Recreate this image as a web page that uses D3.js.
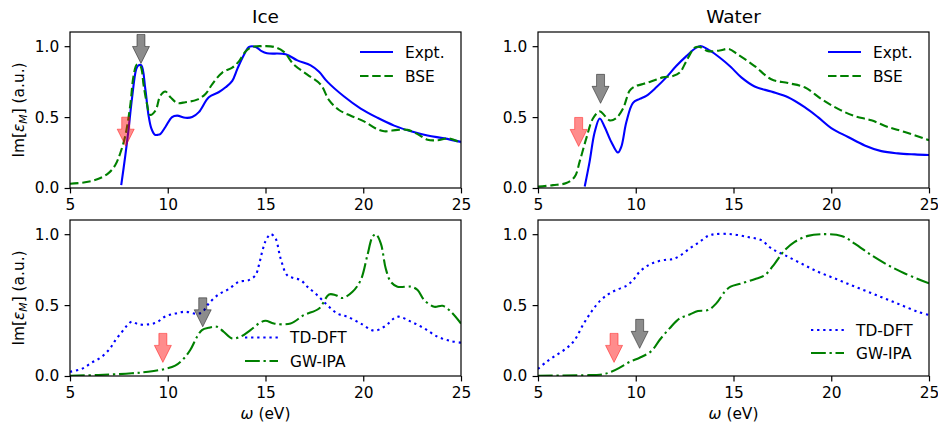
<!DOCTYPE html>
<html>
<head>
<meta charset="utf-8">
<script src="https://cdn.jsdelivr.net/npm/d3@7"></script>
<style>
  body { margin: 0; background: #fff; }
  svg { display: block; font-family: "DejaVu Sans", sans-serif; }
</style>
</head>
<body>
<script>
// [omega (eV), Im eps_M (a.u.)]
const iceExpt = [[7.62,0.02],[7.83,0.23],[8.0,0.42],[8.17,0.63],[8.39,0.84],[8.5,0.865],[8.65,0.865],[8.85,0.70],[9.02,0.51],[9.16,0.42],[9.33,0.377],[9.5,0.375],[9.62,0.38],[9.88,0.43],[10.22,0.50],[10.48,0.51],[10.9,0.495],[11.25,0.50],[11.59,0.535],[12.1,0.64],[12.6,0.675],[12.96,0.71],[13.3,0.756],[13.56,0.84],[13.9,0.94],[14.16,0.995],[14.5,0.995],[14.8,0.965],[15.08,0.95],[16.03,0.943],[16.63,0.90],[17.31,0.865],[17.74,0.82],[18.16,0.75],[19.02,0.645],[19.87,0.56],[20.73,0.495],[21.58,0.44],[22.44,0.40],[23.29,0.37],[24.14,0.35],[25,0.325]];
const iceBSE = [[5.0,0.03],[5.77,0.04],[6.46,0.065],[6.97,0.105],[7.31,0.16],[7.57,0.245],[7.83,0.37],[8.08,0.58],[8.25,0.79],[8.42,0.87],[8.6,0.86],[8.77,0.72],[8.94,0.59],[9.1,0.515],[9.37,0.545],[9.62,0.65],[9.88,0.68],[10.14,0.64],[10.48,0.60],[10.9,0.605],[11.5,0.623],[11.93,0.663],[12.28,0.733],[12.79,0.814],[13.3,0.849],[13.65,0.895],[13.99,0.965],[14.33,0.995],[14.85,1.0],[15.43,0.995],[15.94,0.96],[16.45,0.87],[17.14,0.80],[17.82,0.73],[18.25,0.62],[18.76,0.55],[19.36,0.51],[20.04,0.47],[20.64,0.42],[21.07,0.40],[21.75,0.41],[22.26,0.41],[22.78,0.38],[23.29,0.34],[23.81,0.337],[24.4,0.35],[25,0.317]];
const waterExpt = [[7.39,0.01],[7.64,0.186],[7.9,0.395],[8.16,0.49],[8.41,0.43],[8.75,0.325],[9.09,0.25],[9.26,0.29],[9.52,0.465],[9.86,0.60],[10.2,0.628],[10.54,0.65],[11.05,0.71],[11.56,0.78],[12.07,0.86],[12.59,0.93],[13.1,0.99],[13.35,1.0],[13.78,0.97],[14.29,0.92],[14.85,0.855],[15.4,0.78],[16.08,0.716],[16.93,0.68],[17.79,0.64],[18.64,0.57],[19.32,0.50],[20.0,0.423],[20.86,0.36],[21.71,0.30],[22.56,0.26],[23.41,0.244],[24.27,0.237],[25,0.233]];
const waterBSE = [[5,0.01],[5.77,0.02],[6.45,0.035],[6.88,0.08],[7.13,0.186],[7.47,0.35],[7.81,0.49],[8.16,0.54],[8.41,0.51],[8.67,0.477],[9.0,0.493],[9.35,0.56],[9.69,0.686],[9.95,0.716],[10.37,0.733],[10.88,0.756],[11.39,0.78],[11.9,0.79],[12.25,0.814],[12.59,0.895],[13.02,0.99],[13.27,0.995],[13.7,0.965],[14.29,0.97],[14.76,0.98],[15.23,0.94],[16.08,0.86],[16.93,0.767],[17.79,0.74],[18.64,0.71],[19.49,0.628],[20.35,0.558],[21.2,0.507],[22.05,0.477],[22.9,0.43],[23.76,0.395],[25,0.337]];
const iceTDDFT = [[5.0,0.03],[5.6,0.05],[6.11,0.094],[6.63,0.136],[7.05,0.195],[7.31,0.25],[7.65,0.31],[7.91,0.354],[8.16,0.383],[8.5,0.364],[9.02,0.364],[9.44,0.378],[9.87,0.42],[10.38,0.44],[10.9,0.453],[11.41,0.44],[11.75,0.448],[12.09,0.51],[12.6,0.575],[13.12,0.613],[13.63,0.664],[14.14,0.676],[14.49,0.711],[14.66,0.78],[14.83,0.876],[15.0,0.95],[15.26,1.0],[15.51,0.97],[15.77,0.83],[16.11,0.71],[16.45,0.69],[16.8,0.676],[17.14,0.63],[17.65,0.57],[18.16,0.50],[18.68,0.44],[19.19,0.418],[19.87,0.37],[20.55,0.32],[21.07,0.347],[21.75,0.418],[22.44,0.383],[23.12,0.336],[23.8,0.277],[24.49,0.246],[25,0.235]];
const iceGWIPA = [[5,0.002],[6.45,0.007],[8.16,0.019],[9.0,0.03],[9.87,0.05],[10.38,0.073],[10.8,0.12],[11.15,0.183],[11.5,0.277],[11.75,0.324],[12.09,0.34],[12.52,0.347],[12.86,0.312],[13.29,0.265],[13.72,0.277],[14.23,0.324],[14.66,0.37],[15.0,0.39],[15.43,0.37],[16.28,0.37],[16.97,0.43],[17.74,0.476],[18.25,0.575],[18.59,0.57],[18.94,0.55],[19.45,0.594],[19.87,0.676],[20.21,0.85],[20.47,0.98],[20.64,1.0],[20.9,0.934],[21.15,0.758],[21.41,0.664],[21.75,0.63],[22.44,0.63],[22.78,0.606],[23.12,0.535],[23.63,0.488],[24.06,0.495],[24.49,0.453],[25,0.37]];
const waterTDDFT = [[5,0.05],[5.43,0.10],[5.94,0.148],[6.45,0.195],[6.88,0.254],[7.3,0.36],[7.73,0.453],[8.16,0.528],[8.58,0.575],[9.0,0.606],[9.52,0.636],[9.86,0.676],[10.2,0.735],[10.63,0.78],[11.05,0.805],[11.56,0.82],[11.9,0.824],[12.25,0.847],[12.76,0.9],[13.27,0.946],[13.7,0.988],[14.04,1.0],[14.89,1.0],[15.74,0.98],[16.42,0.958],[16.93,0.9],[17.62,0.852],[18.47,0.793],[19.32,0.735],[20.18,0.688],[21.03,0.64],[21.88,0.594],[22.73,0.547],[23.58,0.5],[24.43,0.453],[25,0.43]];
const waterGWIPA = [[5,0.002],[7.3,0.005],[8.32,0.012],[8.75,0.03],[9.18,0.059],[9.69,0.1],[10.2,0.129],[10.8,0.176],[11.22,0.254],[11.73,0.336],[12.25,0.406],[12.76,0.434],[13.18,0.458],[13.7,0.465],[14.12,0.512],[14.55,0.594],[14.85,0.63],[15.4,0.653],[16.08,0.683],[16.6,0.711],[17.11,0.793],[17.62,0.887],[18.13,0.946],[18.81,0.988],[19.49,1.0],[20.52,0.988],[21.2,0.934],[22.05,0.852],[22.9,0.782],[23.76,0.723],[25,0.653]];

// arrow tips [omega, value]
const iceBseArrows = [[8.63, 0.878], [7.85, 0.295]];
const waterBseArrows = [[8.2, 0.597], [7.08, 0.293]];
const iceIpaArrows = [[11.79, 0.347], [9.75, 0.096]];
const waterIpaArrows = [[10.2, 0.195], [8.89, 0.096]];

const xTicks = [5, 10, 15, 20, 25];
const yTicks = [0, 0.5, 1.0];
const titles = ["Ice", "Water"];

const width = 938, height = 425;
const pw = 391, ph = 156;
const fs = 15.4;
const tk = 5.4;

const styles = {
  "Expt.":  { color: "#0000ff", dash: null },
  "BSE":    { color: "#008000", dash: "8.5,3.7" },
  "TD-DFT": { color: "#0000ff", dash: "2.3,3.8" },
  "GW-IPA": { color: "#008000", dash: "14.8,3.7,2.3,3.7" }
};

const panels = [
  { left: 70,  top: 32,  title: titles[0], ylab: true,  xlab: false,
    series: [["Expt.", iceExpt], ["BSE", iceBSE]], arrows: iceBseArrows, leg: [290, 20, 24] },
  { left: 538, top: 32,  title: titles[1], ylab: false, xlab: false,
    series: [["Expt.", waterExpt], ["BSE", waterBSE]], arrows: waterBseArrows, leg: [290, 20, 24] },
  { left: 70,  top: 220, title: null, ylab: true,  xlab: true,
    series: [["TD-DFT", iceTDDFT], ["GW-IPA", iceGWIPA]], arrows: iceIpaArrows, leg: [175, 117.5, 23.5] },
  { left: 538, top: 220, title: null, ylab: false, xlab: true,
    series: [["TD-DFT", waterTDDFT], ["GW-IPA", waterGWIPA]], arrows: waterIpaArrows, leg: [273, 110, 23] }
];

const svg = d3.select("body").append("svg")
  .attr("width", width)
  .attr("height", height);

const x = d3.scaleLinear().domain([5, 25]).range([0, pw]);
const y = d3.scaleLinear().domain([0, 1.1]).range([ph, 0]);

const line = d3.line()
  .x(d => x(d[0]))
  .y(d => y(d[1]))
  .curve(d3.curveCatmullRom.alpha(0.5));

panels.forEach((p, i) => {
  const g = svg.append("g").attr("transform", `translate(${p.left},${p.top})`);

  g.append("clipPath").attr("id", "clip" + i)
    .append("rect").attr("width", pw).attr("height", ph);

  const plot = g.append("g").attr("clip-path", `url(#clip${i})`);

  p.series.forEach(([name, data]) => {
    const s = styles[name];
    plot.append("path")
      .datum(data)
      .attr("d", line)
      .attr("fill", "none")
      .attr("stroke", s.color)
      .attr("stroke-width", 2.1)
      .attr("stroke-dasharray", s.dash)
      .attr("stroke-linejoin", "round");
  });

  // arrows: first gray, second red
  const arrowCol = ["#000000", "#ff0000"];
  p.arrows.forEach((a, j) => {
    const tx = x(a[0]), ty = y(a[1]);
    const pts = [[tx - 4, ty - 29], [tx + 4, ty - 29], [tx + 4, ty - 17], [tx + 8.5, ty - 17],
                 [tx, ty], [tx - 8.5, ty - 17], [tx - 4, ty - 17]];
    g.append("polygon")
      .attr("points", pts.map(q => q.join(",")).join(" "))
      .attr("fill", arrowCol[j])
      .attr("fill-opacity", 0.45)
      .attr("stroke", arrowCol[j])
      .attr("stroke-opacity", 0.45)
      .attr("stroke-width", 1);
  });

  const xAxis = g.append("g")
    .attr("transform", `translate(0,${ph})`)
    .call(d3.axisBottom(x).tickValues(xTicks).tickSize(tk).tickPadding(tk).tickSizeOuter(0));
  const yAxis = g.append("g")
    .call(d3.axisLeft(y).tickValues(yTicks).tickFormat(d3.format(".1f")).tickSize(tk).tickPadding(tk).tickSizeOuter(0));
  [xAxis, yAxis].forEach(ax => {
    ax.select(".domain").remove();
    ax.selectAll("line").attr("stroke", "#000").attr("stroke-width", 1.2);
    ax.selectAll("text").attr("fill", "#000")
      .style("font-size", fs + "px").style("font-family", "DejaVu Sans");
  });

  g.append("rect")
    .attr("width", pw).attr("height", ph)
    .attr("fill", "none").attr("stroke", "#000").attr("stroke-width", 1.2);

  if (p.title) {
    g.append("text")
      .attr("x", pw / 2).attr("y", -9)
      .attr("text-anchor", "middle")
      .style("font-size", "18.5px")
      .text(p.title);
  }

  if (p.ylab) {
    const t = g.append("text")
      .attr("transform", `translate(${-46},${ph / 2}) rotate(-90)`)
      .attr("text-anchor", "middle")
      .style("font-size", fs + "px");
    t.append("tspan").text("Im[");
    t.append("tspan").style("font-style", "italic").text("ε");
    t.append("tspan").style("font-style", "italic").style("font-size", "10.8px")
      .attr("dy", 2.8).text("M");
    t.append("tspan").attr("dy", -2.8).text("] (a.u.)");
  }

  if (p.xlab) {
    const t = g.append("text")
      .attr("x", pw / 2).attr("y", ph + 43)
      .attr("text-anchor", "middle")
      .style("font-size", fs + "px");
    t.append("tspan").style("font-style", "italic").text("ω");
    t.append("tspan").text(" (eV)");
  }

  // legend, no frame
  const [lx, ly, ldy] = p.leg;
  p.series.forEach(([name], j) => {
    const s = styles[name];
    const yy = ly + j * ldy;
    g.append("line")
      .attr("x1", lx).attr("x2", lx + 33)
      .attr("y1", yy).attr("y2", yy)
      .attr("stroke", s.color)
      .attr("stroke-width", 2.1)
      .attr("stroke-dasharray", s.dash);
    g.append("text")
      .attr("x", lx + 45).attr("y", yy + 5.6)
      .style("font-size", fs + "px")
      .text(name);
  });
});
</script>
</body>
</html>
